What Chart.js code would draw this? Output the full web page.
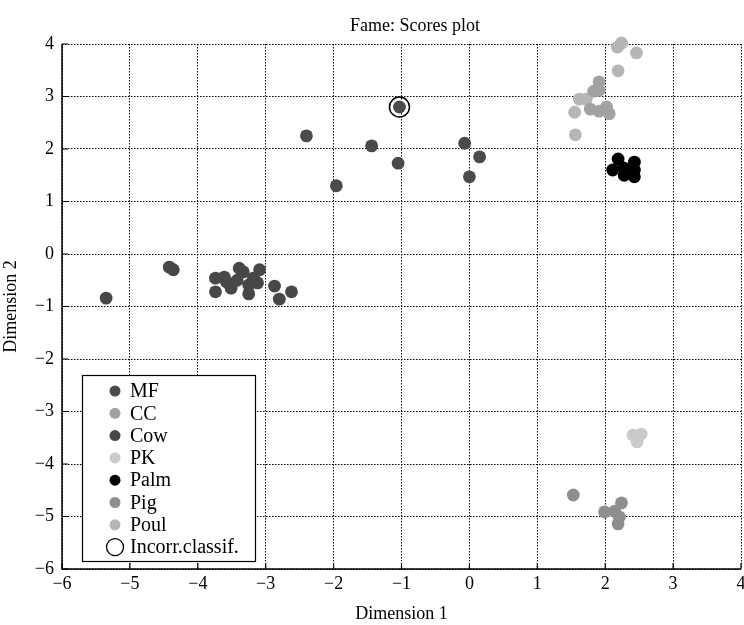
<!DOCTYPE html>
<html>
<head>
<meta charset="utf-8">
<script src="https://cdn.jsdelivr.net/npm/chart.js@4.4.1/dist/chart.umd.min.js"></script>
<style>
html,body{margin:0;padding:0;background:#fff;}
#wrap{width:744px;height:625px;}
</style>
</head>
<body>
<div id="wrap"><canvas id="c" width="744" height="625"></canvas></div>
<script>
const chartTitle = "Fame: Scores plot";
const xTicks = [-6,-5,-4,-3,-2,-1,0,1,2,3,4];
const yTicks = [-6,-5,-4,-3,-2,-1,0,1,2,3,4];
const seriesNames = ["MF","CC","Cow","PK","Palm","Pig","Poul","Incorr.classif."];

const mfX = [-2.40,-1.44,-1.96,-1.03,-1.05,-0.07,0.15,0.00];
const mfY = [2.25,2.06,1.30,2.80,1.73,2.11,1.85,1.47];

const ccX = [1.91,1.83,1.91,1.78,1.91,2.02,2.06];
const ccY = [3.28,3.10,3.12,2.76,2.72,2.80,2.67];

const cowX = [-5.35,-4.42,-4.36,-3.74,-3.74,-3.61,-3.58,-3.51,-3.42,-3.39,-3.33,-3.09,-3.25,-3.18,-3.12,-3.25,-2.87,-2.80,-2.62];
const cowY = [-0.84,-0.25,-0.30,-0.46,-0.72,-0.44,-0.53,-0.65,-0.50,-0.27,-0.34,-0.30,-0.59,-0.46,-0.55,-0.76,-0.61,-0.86,-0.72];

const pkX = [2.41,2.53,2.47];
const pkY = [-3.45,-3.43,-3.58];

const palmX = [2.19,2.11,2.27,2.28,2.43,2.43,2.43];
const palmY = [1.81,1.60,1.64,1.50,1.75,1.60,1.47];

const pigX = [1.53,2.24,1.99,2.14,2.21,2.19];
const pigY = [-4.59,-4.74,-4.91,-4.90,-5.01,-5.14];

const poulX = [2.24,2.18,2.46,2.19,1.62,1.72,1.55,1.56];
const poulY = [4.02,3.94,3.83,3.49,2.95,2.95,2.70,2.27];

const incX = [-1.03];
const incY = [2.80];

const colors = ["#4b4b4b","#a2a2a2","#474747","#cacaca","#000000","#8e8e8e","#b6b6b6","#000000"];

function pts(xs, ys){ return xs.map((x,i)=>({x:x, y:ys[i]})); }

const seriesData = [pts(mfX,mfY),pts(ccX,ccY),pts(cowX,cowY),pts(pkX,pkY),pts(palmX,palmY),pts(pigX,pigY),pts(poulX,poulY),pts(incX,incY)];

const serif = "'Liberation Serif','DejaVu Serif',serif";
const minus = v => (v<0 ? "\u2212"+Math.abs(v) : String(v));

const datasets = seriesNames.map((n,i)=>{
  if (i===7) {
    return {label:n, data:seriesData[i], pointStyle:'circle', pointRadius:10, pointHoverRadius:10,
      backgroundColor:'rgba(0,0,0,0)', borderColor:'#000', borderWidth:1.5, clip:false};
  }
  return {label:n, data:seriesData[i], pointStyle:'circle', pointRadius:6.4, pointHoverRadius:6.4,
    backgroundColor:colors[i], borderColor:colors[i], borderWidth:0, clip:false};
});

const framePlugin = {
  id:'frame',
  afterDatasetsDraw(chart){
    const ctx = chart.ctx, a = chart.chartArea;
    const xs = chart.scales.x, ys = chart.scales.y;
    ctx.save();
    // title, centred over the plot as in the reference
    ctx.fillStyle = '#000';
    ctx.font = "18px " + serif;
    ctx.textAlign = 'center';
    ctx.textBaseline = 'middle';
    ctx.fillText(chartTitle, xs.getPixelForValue(-0.8), a.top - 18);
    ctx.strokeStyle = '#000';
    ctx.lineWidth = 1.5;
    ctx.setLineDash([]);
    ctx.beginPath();
    ctx.moveTo(a.left, a.top); ctx.lineTo(a.left, a.bottom); ctx.lineTo(a.right, a.bottom);
    ctx.stroke();
    ctx.lineWidth = 1.2;
    ctx.beginPath();
    xTicks.forEach(t=>{ const px = xs.getPixelForValue(t); ctx.moveTo(px, a.bottom); ctx.lineTo(px, a.bottom-6); });
    yTicks.forEach(t=>{ const py = ys.getPixelForValue(t); ctx.moveTo(a.left, py); ctx.lineTo(a.left+6, py); });
    ctx.stroke();
    // legend box
    const bx = 82, by = 375;
    const bw = 173, bh = 186;
    ctx.fillStyle = '#fff';
    ctx.fillRect(bx, by, bw, bh);
    ctx.lineWidth = 1.2;
    ctx.strokeRect(bx+0.5, by+0.5, bw, bh);
    ctx.font = "20px " + serif;
    ctx.textBaseline = 'middle';
    ctx.textAlign = 'left';
    chart.data.datasets.forEach((d,i)=>{
      const cy = by + 16 + i*22.3;
      const cx = bx + 33;
      ctx.beginPath();
      if (i===7) {
        ctx.arc(cx, cy, 8.5, 0, Math.PI*2);
        ctx.lineWidth = 1.3; ctx.strokeStyle='#000'; ctx.stroke();
      } else {
        ctx.arc(cx, cy, 5.5, 0, Math.PI*2);
        ctx.fillStyle = d.backgroundColor; ctx.fill();
      }
      ctx.fillStyle = '#000';
      ctx.fillText(d.label, bx + 48, cy + 1);
    });
    ctx.restore();
  }
};

new Chart(document.getElementById('c'), {
  type:'scatter',
  data:{datasets:datasets},
  options:{
    responsive:false,
    animation:false,
    layout:{autoPadding:false, padding:{left:0,right:3,top:44,bottom:0}},
    plugins:{
      legend:{display:false},
      tooltip:{enabled:false},
      title:{display:false}
    },
    scales:{
      x:{type:'linear', min:xTicks[0], max:xTicks[xTicks.length-1],
        afterFit(s){ s.height = 56; s.paddingRight = 0; s.paddingLeft = 0; },
        ticks:{stepSize:1, color:'#000', font:{family:serif, size:18}, padding:4, maxRotation:0,
          callback:v=>(xTicks.includes(v) ? minus(v) : '')},
        grid:{color:'#000', lineWidth:1, drawTicks:false},
        border:{display:false, dash:[1.5,1.5]},
        title:{display:true, text:'Dimension 1', color:'#000', font:{family:serif, size:18}, padding:{top:1,bottom:0}}
      },
      y:{type:'linear', min:yTicks[0], max:yTicks[yTicks.length-1],
        afterFit(s){ s.width = 62; s.paddingTop = 0; s.paddingBottom = 0; },
        ticks:{stepSize:1, color:'#000', font:{family:serif, size:18}, padding:8,
          callback:v=>(yTicks.includes(v) ? minus(v) : '')},
        grid:{color:'#000', lineWidth:1, drawTicks:false},
        border:{display:false, dash:[1.5,1.5]},
        title:{display:true, text:'Dimension 2', color:'#000', font:{family:serif, size:18}, padding:{top:0,bottom:2}}
      }
    }
  },
  plugins:[framePlugin]
});
</script>
</body>
</html>
